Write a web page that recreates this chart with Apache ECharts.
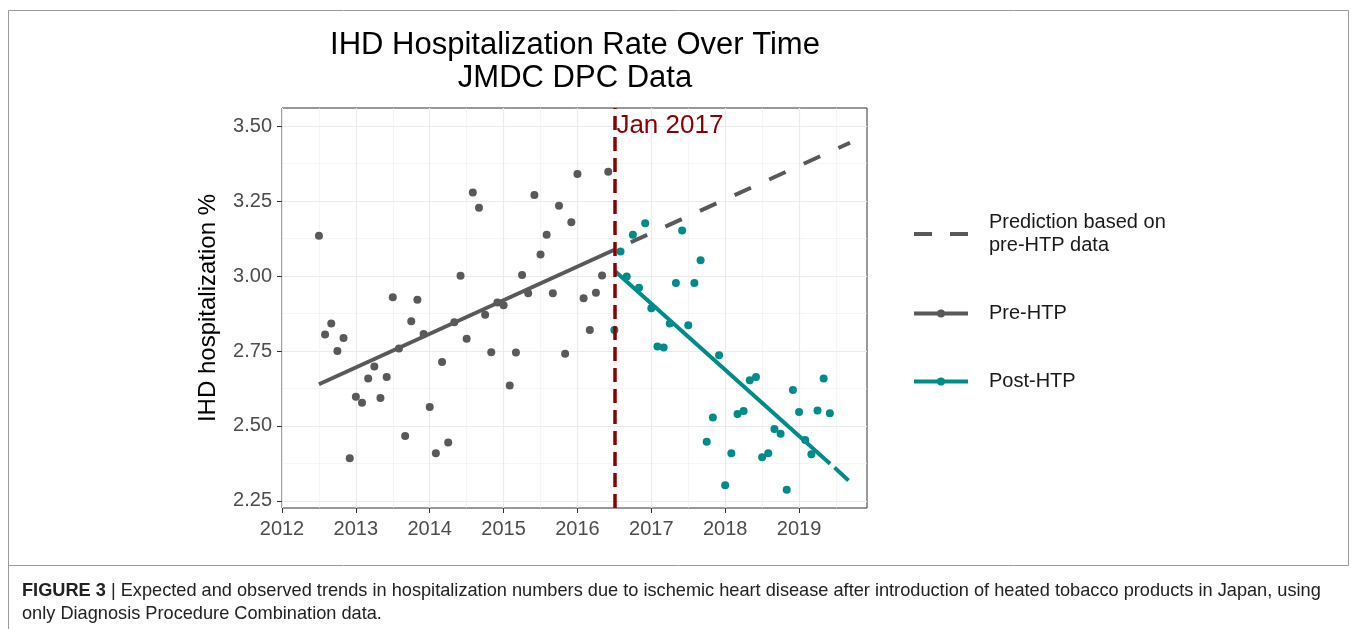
<!DOCTYPE html>
<html>
<head>
<meta charset="utf-8">
<title>IHD Hospitalization Rate Over Time</title>
<script src="https://cdn.jsdelivr.net/npm/echarts@6/dist/echarts.min.js"></script>
<style>
    html, body { margin: 0; padding: 0; background: #fff; }
    #main { width: 1357px; height: 629px; }
</style>
</head>
<body>
<div id="main"></div>
<script>
// 月份（小数年）和住院率
var preYears = [2012.500, 2012.583, 2012.667, 2012.750, 2012.833, 2012.917,
    2013.000, 2013.083, 2013.167, 2013.250, 2013.333, 2013.417, 2013.500, 2013.583, 2013.667, 2013.750, 2013.833, 2013.917,
    2014.000, 2014.083, 2014.167, 2014.250, 2014.333, 2014.417, 2014.500, 2014.583, 2014.667, 2014.750, 2014.833, 2014.917,
    2015.000, 2015.083, 2015.167, 2015.250, 2015.333, 2015.417, 2015.500, 2015.583, 2015.667, 2015.750, 2015.833, 2015.917,
    2016.000, 2016.083, 2016.167, 2016.250, 2016.333, 2016.417];
var preRate = [3.135, 2.805, 2.842, 2.750, 2.793, 2.392,
    2.597, 2.577, 2.658, 2.698, 2.593, 2.663, 2.929, 2.758, 2.466, 2.849, 2.921, 2.807,
    2.563, 2.409, 2.713, 2.445, 2.846, 3.001, 2.791, 3.279, 3.228, 2.871, 2.746, 2.912,
    2.903, 2.635, 2.745, 3.004, 2.943, 3.271, 3.072, 3.138, 2.943, 3.235, 2.741, 3.180,
    3.341, 2.926, 2.820, 2.944, 3.002, 3.348];

var postYears = [2016.500, 2016.583, 2016.667, 2016.750, 2016.833, 2016.917,
    2017.000, 2017.083, 2017.167, 2017.250, 2017.333, 2017.417, 2017.500, 2017.583, 2017.667, 2017.750, 2017.833, 2017.917,
    2018.000, 2018.083, 2018.167, 2018.250, 2018.333, 2018.417, 2018.500, 2018.583, 2018.667, 2018.750, 2018.833, 2018.917,
    2019.000, 2019.083, 2019.167, 2019.250, 2019.333, 2019.417];
var postRate = [2.820, 3.082, 2.999, 3.138, 2.961, 3.176,
    2.893, 2.765, 2.762, 2.842, 2.977, 3.152, 2.836, 2.977, 3.053, 2.447, 2.528, 2.736,
    2.302, 2.409, 2.540, 2.550, 2.652, 2.663, 2.395, 2.409, 2.490, 2.474, 2.287, 2.620,
    2.546, 2.453, 2.405, 2.551, 2.658, 2.542];

// 趋势线端点
var preTrend = [[2012.5, 2.639], [2016.5, 3.088]];
var predTrend = [[2016.5, 3.088], [2019.69, 3.445]];
var postTrend = [[2016.51, 3.016], [2019.42, 2.374]];
var postTrendTail = [[2019.48, 2.361], [2019.67, 2.318]];

var htpStart = 2016.5;
var htpLabel = 'Jan 2017';

// 刻度
var xTicks = [2012, 2013, 2014, 2015, 2016, 2017, 2018, 2019];
var xMinor = [2012.5, 2013.5, 2014.5, 2015.5, 2016.5, 2017.5, 2018.5, 2019.5];
var yTicks = [2.25, 2.50, 2.75, 3.00, 3.25, 3.50];
var yMinor = [2.375, 2.625, 2.875, 3.125, 3.375];

var predName = 'Prediction based on\npre-HTP data';

function pairs(xs, ys) {
    var out = [];
    for (var i = 0; i < xs.length; i++) {
        out.push([xs[i], ys[i]]);
    }
    return out;
}

var GREY = '#595959';
var TEAL = '#008B8B';
var DARKRED = '#8B0000';
var FONT = '"Liberation Sans", Arial, sans-serif';

var chart = echarts.init(document.getElementById('main'));

var xMin = 2012, xMax = 2019.92;
var yMin = 2.226, yMax = 3.561;

option = {
    animation: false,
    backgroundColor: '#fff',
    textStyle: { fontFamily: FONT },
    title: {
        text: 'IHD Hospitalization Rate Over Time\nJMDC DPC Data',
        left: 575,
        top: 29,
        padding: 0,
        textAlign: 'center',
        textStyle: {
            fontFamily: FONT,
            fontSize: 31,
            fontWeight: 'normal',
            color: '#000',
            lineHeight: 33
        }
    },
    legend: {
        orient: 'vertical',
        left: 912,
        top: 211,
        padding: 0,
        itemGap: 45,
        itemWidth: 54,
        itemHeight: 10,
        lineStyle: { width: 4 },
        textStyle: {
            fontFamily: FONT,
            fontSize: 20,
            lineHeight: 23,
            color: '#1a1a1a',
            padding: [0, 0, 0, 16]
        },
        data: [
            { name: predName, icon: 'path://M0,0H18V4H0Z M36,0H54V4H36Z', itemStyle: { borderWidth: 0 } },
            'Pre-HTP',
            'Post-HTP'
        ]
    },
    grid: {
        left: 282,
        right: 490,
        top: 108,
        bottom: 121,
        show: true,
        backgroundColor: '#fff',
        borderColor: '#333',
        borderWidth: 1
    },
    xAxis: [
        {
            type: 'value',
            min: xMin,
            max: xMax,
            axisLine: { show: false },
            axisTick: { show: true, length: 5, lineStyle: { color: '#333', width: 1 }, customValues: xTicks },
            axisLabel: {
                customValues: xTicks,
                margin: 11,
                fontSize: 20,
                color: '#4d4d4d',
                fontFamily: FONT,
                formatter: function (v) { return String(v); }
            },
            splitLine: { show: true, lineStyle: { color: '#ebebeb', width: 1.2 } }
        },
        {
            // 次网格线
            type: 'value',
            min: xMin,
            max: xMax,
            axisLine: { show: false },
            axisTick: { show: false, customValues: xMinor },
            axisLabel: { show: false },
            splitLine: { show: true, lineStyle: { color: '#f0f0f0', width: 0.7 } }
        }
    ],
    yAxis: [
        {
            type: 'value',
            min: yMin,
            max: yMax,
            name: 'IHD hospitalization %',
            nameLocation: 'middle',
            nameGap: 62,
            nameTextStyle: { fontFamily: FONT, fontSize: 24, color: '#000' },
            axisLine: { show: false },
            axisTick: { show: true, length: 5, lineStyle: { color: '#333', width: 1 }, customValues: yTicks },
            axisLabel: {
                customValues: yTicks,
                margin: 10,
                fontSize: 20,
                color: '#4d4d4d',
                fontFamily: FONT,
                formatter: function (v) { return v.toFixed(2); }
            },
            splitLine: { show: true, lineStyle: { color: '#ebebeb', width: 1.2 } }
        },
        {
            type: 'value',
            min: yMin,
            max: yMax,
            axisLine: { show: false },
            axisTick: { show: false, customValues: yMinor },
            axisLabel: { show: false },
            splitLine: { show: true, lineStyle: { color: '#f0f0f0', width: 0.7 } }
        }
    ],
    series: [
        {
            name: 'pre points',
            type: 'scatter',
            symbolSize: 8,
            itemStyle: { color: GREY, opacity: 1 },
            data: pairs(preYears, preRate),
            markLine: {
                silent: true,
                symbol: ['none', 'none'],
                label: { show: false },
                lineStyle: { color: DARKRED, width: 3.5, type: [14, 7], opacity: 1 },
                data: [{ xAxis: htpStart }],
                z: 5
            }
        },
        {
            name: 'post points',
            type: 'scatter',
            symbolSize: 8,
            itemStyle: { color: TEAL, opacity: 1 },
            data: pairs(postYears, postRate)
        },
        {
            name: 'Pre-HTP',
            type: 'line',
            symbol: 'none',
            color: GREY,
            lineStyle: { color: GREY, width: 4 },
            data: preTrend,
            z: 3
        },
        {
            name: predName,
            type: 'line',
            symbol: 'none',
            color: GREY,
            lineStyle: { color: GREY, width: 4, type: [18, 20], dashOffset: 20 },
            data: predTrend,
            z: 3
        },
        {
            name: 'Post-HTP',
            type: 'line',
            symbol: 'none',
            color: TEAL,
            lineStyle: { color: TEAL, width: 4 },
            data: postTrend,
            z: 3
        },
        {
            name: 'post tail',
            type: 'line',
            symbol: 'none',
            color: TEAL,
            lineStyle: { color: TEAL, width: 4 },
            data: postTrendTail,
            z: 3
        },
        {
            name: 'label',
            type: 'scatter',
            symbolSize: 0,
            itemStyle: { color: DARKRED },
            silent: true,
            label: {
                show: true,
                position: 'right',
                distance: 2,
                formatter: htpLabel,
                fontFamily: FONT,
                fontSize: 26,
                color: DARKRED,
                opacity: 1
            },
            data: [[htpStart, 3.5]],
            z: 6
        }
    ],
    graphic: [
        {
            type: 'rect',
            shape: { x: 8.5, y: 10.5, width: 1340, height: 555 },
            style: { fill: 'none', stroke: '#9a9a9a', lineWidth: 1 },
            silent: true,
            z: -10
        },
        {
            type: 'line',
            shape: { x1: 8.5, y1: 565, x2: 8.5, y2: 629 },
            style: { stroke: '#9a9a9a', lineWidth: 1 },
            silent: true
        },
        {
            type: 'text',
            left: 22,
            top: 579,
            style: {
                text: '{b|FIGURE 3} | Expected and observed trends in hospitalization numbers due to ischemic heart disease after introduction of heated tobacco products in Japan, using\nonly Diagnosis Procedure Combination data.',
                fontFamily: FONT,
                fontSize: 18.2,
                lineHeight: 23,
                fill: '#222',
                rich: {
                    b: { fontFamily: FONT, fontSize: 18.2, fontWeight: 'bold', fill: '#222', lineHeight: 23 }
                }
            }
        }
    ]
};

chart.setOption(option);
</script>
</body>
</html>
